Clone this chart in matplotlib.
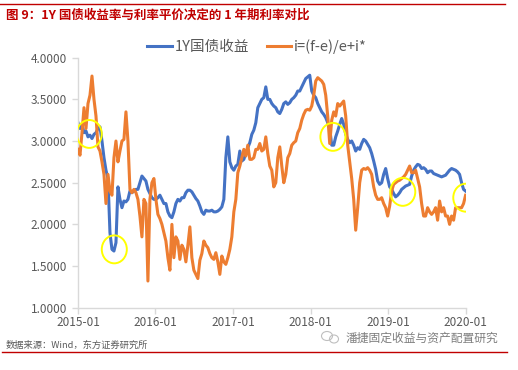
import matplotlib
matplotlib.use('Agg')
import matplotlib.pyplot as plt
import matplotlib.dates as mdates
from matplotlib.patches import Ellipse
from matplotlib.lines import Line2D
import pandas as pd

plt.rcParams['font.family'] = ['Noto Sans CJK SC', 'DejaVu Sans']

title = '图 9：1Y 国债收益率与利率平价决定的 1 年期利率对比'
source = '数据来源：Wind，东方证券研究所'
watermark = '潘捷固定收益与资产配置研究'
series_names = ['1Y国债收益', 'i=(f-e)/e+i*']
start_date = '2015-01-01'
end_date = '2020-01-01'
year_ticks = ['2015-01-01', '2016-01-01', '2017-01-01', '2018-01-01', '2019-01-01', '2020-01-01']
y_ticks = [1.0, 1.5, 2.0, 2.5, 3.0, 3.5, 4.0]

blue_values = [
    3.22, 3.15, 3.20, 3.10, 3.12, 3.05, 3.07, 3.03, 3.08, 3.10, 3.15, 3.17, 3.00, 2.80, 2.65, 2.55,
    1.90, 1.70, 1.68, 1.78, 2.45, 2.30, 2.20, 2.28, 2.27, 2.30, 2.40, 2.38, 2.40, 2.42, 2.42, 2.50,
    2.58, 2.55, 2.52, 2.42, 2.37, 2.32, 2.30, 2.30, 2.32, 2.35, 2.30, 2.25, 2.25, 2.15, 2.10, 2.08,
    2.15, 2.25, 2.30, 2.28, 2.32, 2.32, 2.38, 2.41, 2.41, 2.39, 2.35, 2.31, 2.28, 2.22, 2.15, 2.12,
    2.17, 2.16, 2.16, 2.17, 2.15, 2.15, 2.16, 2.18, 2.21, 2.30, 2.80, 3.05, 2.75, 2.68, 2.65, 2.70,
    2.72, 2.88, 2.76, 2.78, 2.85, 2.92, 2.98, 3.08, 3.13, 3.22, 3.40, 3.45, 3.50, 3.52, 3.65, 3.50,
    3.50, 3.45, 3.42, 3.40, 3.35, 3.33, 3.38, 3.45, 3.47, 3.44, 3.46, 3.50, 3.52, 3.55, 3.60, 3.60,
    3.65, 3.70, 3.75, 3.77, 3.79, 3.60, 3.55, 3.52, 3.45, 3.40, 3.35, 3.32, 3.28, 3.22, 3.15, 2.95,
    2.95, 3.05, 3.12, 3.20, 3.27, 3.20, 3.08, 3.02, 2.98, 3.00, 2.95, 2.88, 2.92, 2.90, 2.97, 3.02,
    3.00, 2.96, 2.92, 2.85, 2.76, 2.66, 2.52, 2.48, 2.50, 2.60, 2.67, 2.55, 2.45, 2.42, 2.37, 2.33,
    2.35, 2.38, 2.42, 2.44, 2.46, 2.47, 2.48, 2.58, 2.65, 2.69, 2.72, 2.71, 2.67, 2.68, 2.66, 2.62,
    2.64, 2.64, 2.61, 2.60, 2.59, 2.58, 2.57, 2.58, 2.59, 2.62, 2.65, 2.67, 2.66, 2.65, 2.63, 2.60,
    2.50, 2.42, 2.40,
]

orange_values = [
    2.90, 2.83, 3.10, 3.40, 3.15, 3.45, 3.55, 3.78, 3.50, 3.30, 2.93, 2.88, 2.75, 2.60, 2.25, 2.60,
    2.40, 2.35, 2.80, 3.00, 2.75, 2.88, 3.00, 3.02, 3.35, 3.00, 2.42, 2.38, 2.42, 2.38, 2.30, 2.10,
    1.85, 2.30, 2.25, 1.32, 2.30, 2.50, 2.55, 2.30, 2.12, 2.07, 2.00, 1.90, 1.80, 1.60, 1.45, 2.00,
    1.60, 1.85, 1.80, 1.58, 1.75, 1.70, 1.55, 1.75, 1.97, 1.60, 1.45, 1.40, 1.35, 1.57, 1.65, 1.80,
    1.75, 1.72, 1.65, 1.60, 1.58, 1.66, 1.55, 1.40, 1.62, 1.55, 1.52, 1.60, 1.70, 1.85, 2.15, 2.30,
    2.62, 2.70, 2.80, 2.90, 2.82, 2.95, 2.78, 2.78, 2.80, 2.90, 2.90, 2.97, 2.88, 2.90, 3.05, 2.85,
    2.70, 2.65, 2.45, 2.50, 2.80, 2.93, 2.70, 2.50, 2.60, 2.80, 2.85, 2.95, 2.98, 3.00, 3.10, 3.15,
    3.25, 3.32, 3.37, 3.38, 3.37, 3.42, 3.55, 3.72, 3.76, 3.74, 3.72, 3.68, 3.55, 3.30, 2.97, 3.25,
    3.35, 3.30, 3.45, 3.42, 3.45, 3.48, 3.30, 2.95, 2.75, 2.55, 2.30, 1.93, 2.20, 2.50, 2.65, 2.67,
    2.66, 2.68, 2.65, 2.60, 2.45, 2.35, 2.30, 2.30, 2.32, 2.25, 2.20, 2.10, 2.22, 2.40, 2.48, 2.50,
    2.52, 2.53, 2.55, 2.57, 2.60, 2.65, 2.70, 2.62, 2.62, 2.65, 2.55, 2.45, 2.25, 2.10, 2.10, 2.20,
    2.15, 2.12, 2.15, 2.20, 2.05, 2.28, 2.15, 2.20, 2.10, 2.10, 2.00, 2.10, 2.05, 2.20, 2.20, 2.20,
    2.20, 2.25, 2.35,
]

circle_dates = ['2015-02-23', '2015-06-21', '2018-04-16', '2019-03-11', '2020-01-02']
circle_values = [3.085, 1.70, 3.05, 2.39, 2.32]

blue_color = '#4472C4'
orange_color = '#ED7D31'
red = '#C00000'
gray_text = '#595959'
axis_gray = '#D9D9D9'

W, H = 518, 370
fig = plt.figure(figsize=(W / 100, H / 100), dpi=100)
fig.patch.set_facecolor('white')

ax = fig.add_axes([78 / W, 1 - 307.7 / H, (466 - 78) / W, (307.7 - 57.7) / H])

blue_dates = pd.date_range(start_date, end_date, periods=len(blue_values))
orange_dates = pd.date_range(start_date, end_date, periods=len(orange_values))

ax.plot(blue_dates, blue_values, color=blue_color, lw=2.2, solid_joinstyle='round', zorder=2)
ax.plot(orange_dates, orange_values, color=orange_color, lw=2.2, solid_joinstyle='round', zorder=3)

for d, v in zip(circle_dates, circle_values):
    e = Ellipse((mdates.date2num(pd.Timestamp(d)), v), width=118, height=0.335,
                fill=False, edgecolor='#FFFF00', lw=1.4, zorder=5)
    ax.add_patch(e)

ax.set_ylim(1.0, 4.0)
ax.set_xlim(pd.Timestamp(start_date), pd.Timestamp(end_date) + pd.Timedelta(days=2))
ax.set_yticks(y_ticks)
ax.set_yticklabels([f'{v:.4f}' for v in y_ticks])
ax.set_xticks([pd.Timestamp(t) for t in year_ticks])
ax.set_xticklabels([pd.Timestamp(t).strftime('%Y-%m') for t in year_ticks])

for s in ['top', 'right']:
    ax.spines[s].set_visible(False)
for s in ['left', 'bottom']:
    ax.spines[s].set_color(axis_gray)
    ax.spines[s].set_linewidth(1.0)
ax.tick_params(axis='both', colors=axis_gray, length=4, width=1.0, direction='out',
               labelcolor=gray_text, labelsize=8.5)
ax.tick_params(axis='y', pad=4)
ax.tick_params(axis='x', pad=2)

handles = [Line2D([], [], color=blue_color, lw=2.2), Line2D([], [], color=orange_color, lw=2.2)]
fig.legend(handles, series_names, loc='center', bbox_to_anchor=(257 / W, 1 - 47 / H), ncol=2,
           frameon=False, handlelength=1.7, handletextpad=0.2, columnspacing=1.2,
           prop={'size': 10.5}, labelcolor=gray_text)

fig.text(6 / W, 1 - 15 / H, title, color=red, fontsize=9, fontweight='bold', va='center', ha='left')
fig.add_artist(Line2D([0, 505 / W], [1 - 4.3 / H, 1 - 4.3 / H], color=red, lw=1.0))
fig.add_artist(Line2D([2 / W, 507 / W], [1 - 351.7 / H, 1 - 351.7 / H], color=red, lw=1.0))

fig.text(6 / W, 1 - 345 / H, source, color=gray_text, fontsize=6.7, va='center', ha='left')
fig.text(346 / W, 1 - 338 / H, watermark, color='#7F7F7F', fontsize=8.5, va='center', ha='left')
fig.add_artist(Ellipse((327 / W, 1 - 336 / H), 11 / W, 9 / H, fill=False, edgecolor='#BFBFBF', lw=0.8))
fig.add_artist(Ellipse((334 / W, 1 - 339 / H), 9 / W, 8 / H, fill=False, edgecolor='#BFBFBF', lw=0.8))

fig.savefig('out.png', dpi=100, facecolor='white')
